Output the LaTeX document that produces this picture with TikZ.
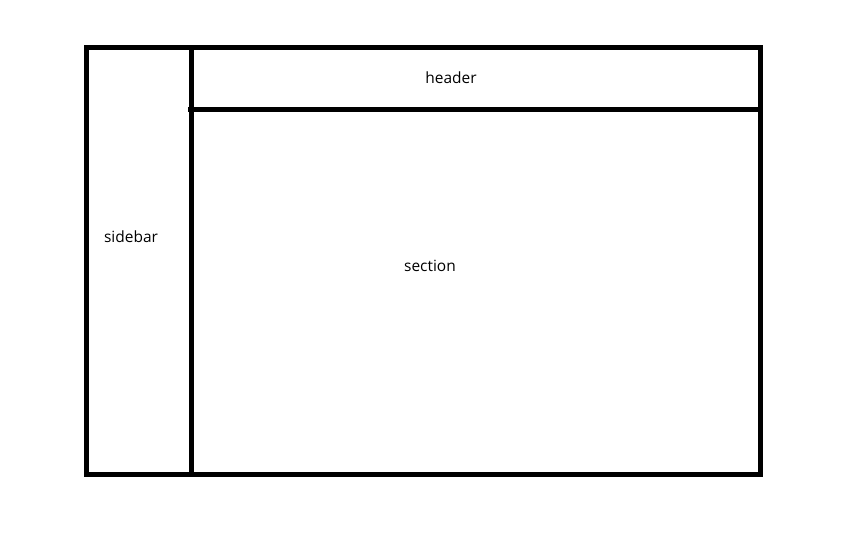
\documentclass[tikz,border=0pt]{standalone}
\usepackage{fontspec}
\setmainfont{Open Sans}
\begin{document}
\begin{tikzpicture}[x=0.01cm,y=-0.01cm,
  frame/.style={line width=0.05cm, draw=black},
  lbl/.style={font=\fontsize{4.4}{5}\selectfont, text=black, inner sep=0pt}]
\useasboundingbox[fill=white] (0,0) rectangle (864,540);
\coordinate (tl) at (86.5,47.5);
\coordinate (br) at (760.5,474.5);
\coordinate (dtop) at (191.5,47.5);
\coordinate (dbot) at (191.5,474.5);
\coordinate (hl) at (188,109.5);
\coordinate (hr) at (760.5,109.5);
\draw[frame] (tl) rectangle (br);
\draw[frame] (dtop) -- (dbot);
\draw[frame] (hl) -- (hr);
\node[lbl] (header) at (451,78) {header};
\node[lbl] (sidebar) at (131,237) {sidebar};
\node[lbl] (section) at (430,266) {section};
\end{tikzpicture}
\end{document}
